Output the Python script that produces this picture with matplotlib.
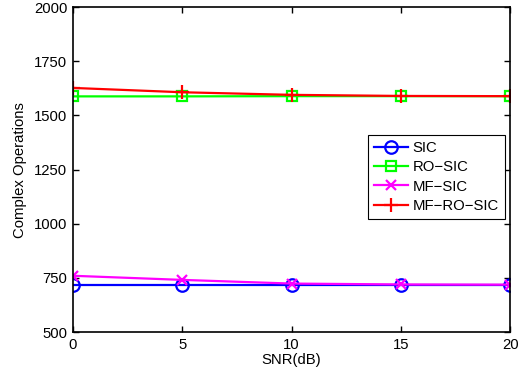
import matplotlib
matplotlib.use('Agg')
import matplotlib.pyplot as plt

plt.rcParams['font.family'] = ['Liberation Sans', 'DejaVu Sans']

snr = [0, 5, 10, 15, 20]
sic = [718, 718, 718, 718, 718]
ro_sic = [1588, 1588, 1589, 1589, 1589]
mf_sic = [760, 741, 724, 720, 719]
mf_ro_sic = [1627, 1607, 1595, 1590, 1589]

fig = plt.figure(figsize=(5.18, 3.74), dpi=100)
ax = fig.add_axes([0.141, 0.112, 0.844, 0.869])

ax.plot(snr, sic, color='#0000ff', marker='o', markersize=9, markerfacecolor='none',
        markeredgewidth=1.6, linewidth=1.6, label='SIC')
ax.plot(snr, ro_sic, color='#00ff00', marker='s', markersize=7.5, markerfacecolor='none',
        markeredgewidth=1.6, linewidth=1.6, label='RO\u2212SIC')
ax.plot(snr, mf_sic, color='#ff00ff', marker='x', markersize=7,
        markeredgewidth=1.6, linewidth=1.6, label='MF\u2212SIC')
ax.plot(snr, mf_ro_sic, color='#ff0000', marker='+', markersize=10,
        markeredgewidth=1.6, linewidth=1.6, label='MF\u2212RO\u2212SIC')

ax.set_xlim(0, 20)
ax.set_ylim(500, 2000)
ax.set_xticks(snr)
ax.set_yticks([500, 750, 1000, 1250, 1500, 1750, 2000])
ax.tick_params(direction='in', top=True, right=True, labelsize=10.7, length=4, width=1, pad=4)
for s in ax.spines.values():
    s.set_linewidth(1.2)
ax.set_xlabel('SNR(dB)', fontsize=10.7, labelpad=1)
ax.set_ylabel('Complex Operations', fontsize=10.7, labelpad=5)

leg = ax.legend(loc='upper right', bbox_to_anchor=(0.988, 0.606), fontsize=10.7,
                fancybox=False, framealpha=1, edgecolor='black', borderpad=0.4,
                handlelength=2.3, handletextpad=0.3, labelspacing=0.35, borderaxespad=0)
leg.get_frame().set_linewidth(0.8)

fig.savefig('out.png', dpi=100)
